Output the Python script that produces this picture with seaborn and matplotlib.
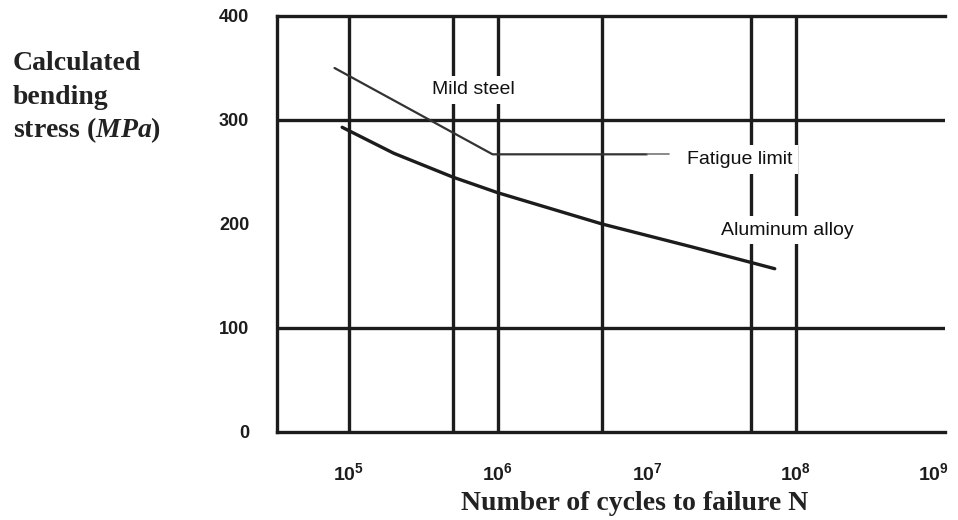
import numpy as np
import pandas as pd
import matplotlib
matplotlib.use("Agg")
import matplotlib.pyplot as plt
import matplotlib.transforms as mtransforms
import seaborn as sns

# ---- data ----
steel_N = [8.0e4, 9.2e5, 1.0e7]
steel_S = [350, 267, 267]

alu_N = [9.0e4, 2.0e5, 5.0e5, 1.0e6, 5.0e6, 2.0e7, 5.0e7, 7.2e7]
alu_S = [293, 268, 245, 230, 200, 178, 163, 157]

y_ticks = [0, 100, 200, 300, 400]
y_grid = [100, 300]
x_ticks = [1e5, 1e6, 1e7, 1e8, 1e9]
x_tick_labels = [r"$\mathsf{10^{5}}$", r"$\mathsf{10^{6}}$", r"$\mathsf{10^{7}}$",
                 r"$\mathsf{10^{8}}$", r"$\mathsf{10^{9}}$"]
x_grid = [1e5, 5e5, 1e6, 5e6, 5e7, 1e8]

df = pd.DataFrame({
    "N": steel_N + alu_N,
    "S": steel_S + alu_S,
    "material": ["Mild steel"] * len(steel_N) + ["Aluminum alloy"] * len(alu_N),
})

sns.set_theme(style="white")
plt.rcParams["font.family"] = ["Liberation Sans", "DejaVu Sans"]
plt.rcParams["mathtext.fontset"] = "custom"
plt.rcParams["mathtext.sf"] = "Liberation Sans:bold"
plt.rcParams["mathtext.it"] = "Liberation Serif:bold:italic"
plt.rcParams["mathtext.rm"] = "Liberation Serif:bold"

fig = plt.figure(figsize=(9.58, 5.2), dpi=100)
ax = fig.add_axes([277 / 958, 1 - 432 / 520, (945 - 277) / 958, (432 - 16) / 520])

ink = "#1c1c1c"

# grid lines
for g in x_grid:
    ax.axvline(g, color=ink, lw=2.4, zorder=1)
for g in y_grid:
    ax.axhline(g, color=ink, lw=2.4, zorder=1)

sns.lineplot(data=df[df.material == "Mild steel"], x="N", y="S", ax=ax,
             color="#333333", lw=1.6, legend=False, zorder=3)
sns.lineplot(data=df[df.material == "Aluminum alloy"], x="N", y="S", ax=ax,
             color=ink, lw=2.4, legend=False, zorder=3)

# fatigue-limit leader
ax.plot([steel_N[-1], 1.4e7], [steel_S[-1], steel_S[-1]], color="#777777", lw=1.2, zorder=3)

ax.set_xscale("log")
ax.set_xlim(10 ** 4.517, 1e9)
ax.set_ylim(0, 400)

ax.set_xticks(x_ticks)
ax.set_xticklabels(x_tick_labels, fontsize=14)
ax.xaxis.set_minor_locator(matplotlib.ticker.NullLocator())
ax.set_yticks(y_ticks)
ax.set_yticklabels([str(v) for v in y_ticks], fontsize=13, fontweight="bold")
ax.tick_params(axis="x", length=0, pad=22, colors=ink)
ax.tick_params(axis="y", length=0, pad=20, colors=ink)
ax.set_xlabel("")
ax.set_ylabel("")

# nudge the last x tick label inward so it stays on the canvas
last = ax.get_xticklabels()[-1]
last.set_transform(last.get_transform() +
                   mtransforms.ScaledTranslation(-12 / 100, 0, fig.dpi_scale_trans))

for side in ["left", "top", "bottom"]:
    ax.spines[side].set_color(ink)
    ax.spines[side].set_linewidth(2.4)
ax.spines["right"].set_visible(False)

box = dict(facecolor="white", edgecolor="none", pad=4)
ax.text(6.8e5, 329, "Mild steel", fontsize=14, ha="center", va="center",
        color="#111111", bbox=box, zorder=4)
ax.text(10 ** 7.27, 262, "Fatigue limit", fontsize=14, ha="left", va="center",
        color="#111111", bbox=box, zorder=4)
ax.text(10 ** 7.5, 194, "Aluminum alloy", fontsize=14, ha="left", va="center",
        color="#111111", bbox=box, zorder=4)

serif = ["Liberation Serif", "DejaVu Serif"]
fig.text(13 / 958, 1 - 63 / 520, "Calculated", fontsize=20, fontweight="bold",
         family=serif, ha="left", va="center", color="#222222")
fig.text(13 / 958, 1 - 97 / 520, "bending", fontsize=20, fontweight="bold",
         family=serif, ha="left", va="center", color="#222222")
fig.text(13 / 958, 1 - 130 / 520, r"stress ($MPa$)", fontsize=20, fontweight="bold",
         family=serif, ha="left", va="center", color="#222222")
fig.text(635 / 958, 1 - 504 / 520, "Number of cycles to failure N", fontsize=20,
         fontweight="bold", family=serif, ha="center", va="center", color="#222222")

fig.savefig("out.png", dpi=100, facecolor="white")
